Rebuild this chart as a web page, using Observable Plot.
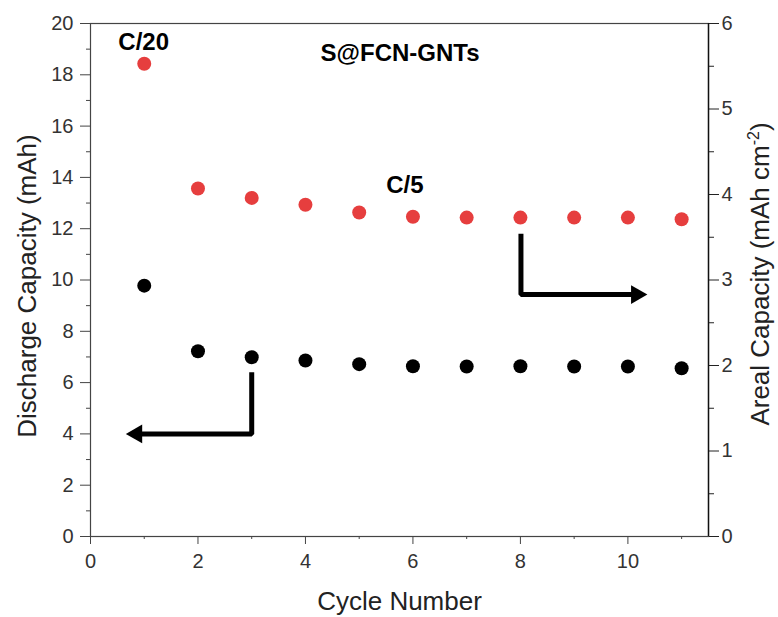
<!DOCTYPE html>
<html>
<head>
<meta charset="utf-8">
<script src="https://cdn.jsdelivr.net/npm/d3@7"></script>
<script src="https://cdn.jsdelivr.net/npm/@observablehq/plot@0.6"></script>
<style>
  html, body { margin: 0; padding: 0; background: #fff; }
  #chart svg { display: block; }
</style>
</head>
<body>
<div id="chart"></div>
<script>
// ---- data ----
const cycles = [1, 2, 3, 4, 5, 6, 7, 8, 9, 10, 11];
const dischargeCapacity = [9.78, 7.22, 6.99, 6.86, 6.72, 6.64, 6.63, 6.64, 6.63, 6.63, 6.56]; // mAh (left axis)
const arealCapacity = [5.53, 4.07, 3.96, 3.88, 3.79, 3.74, 3.73, 3.73, 3.73, 3.73, 3.71];     // mAh cm-2 (right axis)

const xMajorTicks = [0, 2, 4, 6, 8, 10];
const xMinorTicks = [1, 3, 5, 7, 9, 11];
const leftMajorTicks = [0, 2, 4, 6, 8, 10, 12, 14, 16, 18, 20];
const leftMinorTicks = [1, 3, 5, 7, 9, 11, 13, 15, 17, 19];
const rightMajorTicks = [0, 1, 2, 3, 4, 5, 6];
const rightMinorTicks = [0.5, 1.5, 2.5, 3.5, 4.5, 5.5];

const annotationText = ["C/20", "S@FCN-GNTs", "C/5"];
const annotationX = [0.99, 5.76, 5.85];
const annotationY = [19.25, 18.82, 13.68];

// arrows (data coordinates, left-axis units)
const leftArrowX = [3, 3, 0.86];
const leftArrowY = [6.4, 4, 4];
const rightArrowX = [8.01, 8.01, 10.16];
const rightArrowY = [11.8, 9.43, 9.43];

// ---- helpers ----
const leftMax = 20, rightMax = 6;
const k = leftMax / rightMax;
const black = cycles.map((c, i) => ({x: c, y: dischargeCapacity[i]}));
const red = cycles.map((c, i) => ({x: c, y: arealCapacity[i] * k}));
const notes = annotationText.map((t, i) => ({t, x: annotationX[i], y: annotationY[i]}));
const leftArrow = leftArrowX.map((x, i) => ({x, y: leftArrowY[i]}));
const rightArrow = rightArrowX.map((x, i) => ({x, y: rightArrowY[i]}));

const tickColor = "#333";
const FS = 20;

const plot = Plot.plot({
  width: 778,
  height: 617,
  marginLeft: 90,
  marginRight: 70,
  marginTop: 23,
  marginBottom: 81,
  style: {fontFamily: "'Liberation Sans', Arial, sans-serif", background: "#fff", color: tickColor},
  x: {domain: [0, 11.5], label: null},
  y: {domain: [0, leftMax], label: null},
  marks: [
    Plot.frame({stroke: "#444", strokeWidth: 1.2}),
    // x axis
    Plot.axisX({ticks: xMajorTicks, tickSize: 8, tickPadding: 9, fontSize: FS, label: null, stroke: "#444"}),
    Plot.axisX({ticks: xMinorTicks, tickSize: 3, tickFormat: () => "", label: null, stroke: "#444"}),
    // left axis
    Plot.axisY({anchor: "left", ticks: leftMajorTicks, tickSize: 10, tickPadding: 7, fontSize: FS, label: null, stroke: "#444"}),
    Plot.axisY({anchor: "left", ticks: leftMinorTicks, tickSize: 4, tickFormat: () => "", label: null, stroke: "#444"}),
    // right axis
    Plot.axisY({anchor: "right", ticks: rightMajorTicks.map(v => v * k), tickFormat: d => String(Math.round(d / k)), tickSize: 10, tickPadding: 3, fontSize: FS, label: null, stroke: "#222"}),
    Plot.axisY({anchor: "right", ticks: rightMinorTicks.map(v => v * k), tickFormat: () => "", tickSize: 5, label: null, stroke: "#222"}),
    Plot.ruleX([11.5], {stroke: "#111", strokeWidth: 1.4}),
    // axis titles
    Plot.text(["Cycle Number"], {frameAnchor: "bottom", dy: 65, textAnchor: "middle", lineAnchor: "middle", fontSize: 26, fill: "#222"}),
    Plot.text(["Discharge Capacity (mAh)"], {frameAnchor: "left", dx: -63, dy: 6, rotate: -90, textAnchor: "middle", lineAnchor: "middle", fontSize: 26, fill: "#222"}),
    Plot.text(["Areal Capacity (mAh cm-2)"], {frameAnchor: "right", dx: 52, dy: -6, rotate: -90, textAnchor: "middle", lineAnchor: "middle", fontSize: 26, fill: "#222"}),
    // arrows
    Plot.line(leftArrow, {x: "x", y: "y", stroke: "#000", strokeWidth: 5, strokeLinejoin: "miter", strokeLinecap: "butt"}),
    Plot.line(rightArrow, {x: "x", y: "y", stroke: "#000", strokeWidth: 5, strokeLinejoin: "miter", strokeLinecap: "butt"}),
    Plot.dot([leftArrow[leftArrow.length - 1]], {x: "x", y: "y", symbol: "triangle", r: 7, fill: "#000", rotate: -90}),
    Plot.dot([rightArrow[rightArrow.length - 1]], {x: "x", y: "y", symbol: "triangle", r: 7, fill: "#000", rotate: 90}),
    // data
    Plot.dot(red, {x: "x", y: "y", r: 7, fill: "#e63e3e"}),
    Plot.dot(black, {x: "x", y: "y", r: 7, fill: "#000"}),
    // annotations
    Plot.text(notes, {x: "x", y: "y", text: "t", fontSize: 24, fontWeight: "bold", fill: "#000", lineAnchor: "middle"})
  ]
});

// superscript for cm-2
plot.querySelectorAll("text").forEach(t => {
  if (t.textContent === "Areal Capacity (mAh cm-2)") {
    t.textContent = "";
    t.appendChild(document.createTextNode("Areal Capacity (mAh cm"));
    const sup = document.createElementNS("http://www.w3.org/2000/svg", "tspan");
    sup.setAttribute("dy", "-10");
    sup.setAttribute("font-size", "16");
    sup.textContent = "-2";
    t.appendChild(sup);
    const close = document.createElementNS("http://www.w3.org/2000/svg", "tspan");
    close.setAttribute("dy", "10");
    close.textContent = ")";
    t.appendChild(close);
  }
});

document.getElementById("chart").appendChild(plot);
</script>
</body>
</html>
